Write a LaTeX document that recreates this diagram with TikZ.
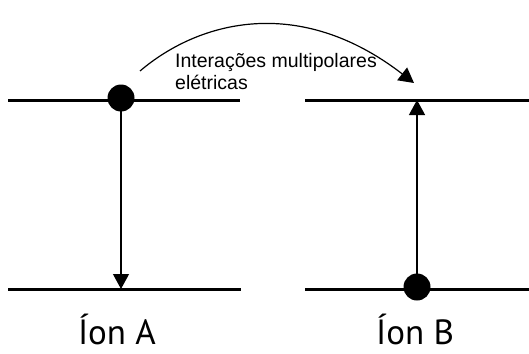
\documentclass[tikz,border=0pt]{standalone}
\usepackage{fontspec}
\setmainfont{Liberation Sans}
\newfontfamily\ionfont{PT Sans}
\usetikzlibrary{arrows.meta}
\begin{document}
\begin{tikzpicture}[x=1pt,y=-1pt,
  level/.style={line width=3pt},
  trans/.style={line width=1.2pt,-{Triangle[width=16pt,length=15pt]}},
  dot/.style={circle,fill=black,inner sep=0pt,minimum size=27pt},
  ionlabel/.style={font=\ionfont\fontsize{35}{38}\selectfont,anchor=base,inner sep=0pt},
  curvelabel/.style={font=\fontsize{19.5}{22}\selectfont,align=left,anchor=north west,inner sep=0pt}]
\useasboundingbox (0,0) rectangle (529,353);
% levels
\coordinate (A1) at (8,100); \coordinate (A2) at (240,100);
\coordinate (A3) at (8,289); \coordinate (A4) at (241,289);
\coordinate (B1) at (305,100); \coordinate (B2) at (529,100);
\coordinate (B3) at (305,289); \coordinate (B4) at (529,289);
\draw[level] (A1) -- (A2);
\draw[level] (A3) -- (A4);
\draw[level] (B1) -- (B2);
\draw[level] (B3) -- (B4);
% dots
\node[dot] (dA) at (121,98) {};
\node[dot] (dB) at (417,287) {};
\coordinate (tA) at (121,289);
\coordinate (tB) at (417,100);
\draw[trans] (dA.center) -- (tA);
\draw[trans] (dB.center) -- (tB);
% curved arrow
\coordinate (cs) at (140,71);
\coordinate (ce) at (414,83);
\draw[trans] (cs) .. controls (200,20) and (300,-5) .. (ce);
\node[curvelabel] (lab) at (175,53) {Interações multipolares\\elétricas};
% ion labels
\node[ionlabel] (ia) at (117,344) {Íon A};
\node[ionlabel] (ib) at (415,344) {Íon B};
\end{tikzpicture}
\end{document}
